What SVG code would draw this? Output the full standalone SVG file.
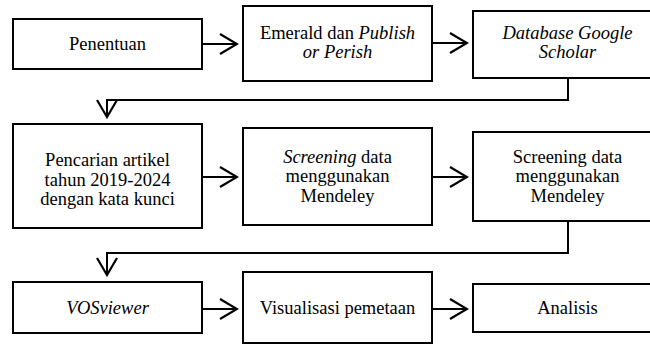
<svg xmlns="http://www.w3.org/2000/svg" width="650" height="344" viewBox="0 0 650 344">
<style>
rect.box{fill:#fff;stroke:#000;stroke-width:2}
text{font-family:'Liberation Serif','DejaVu Serif',serif;font-size:18.5px;fill:#000;text-anchor:middle}
.i{font-style:italic}
.conn{fill:none;stroke:#000;stroke-width:2}
</style>
<defs>
<marker id="ah" viewBox="0 0 20 22" refX="18" refY="11" markerWidth="20" markerHeight="22" markerUnits="userSpaceOnUse" orient="auto">
<path d="M1,1 L18,11 L1,21" fill="none" stroke="#000" stroke-width="2.2"/>
</marker>
</defs>
<rect width="650" height="344" fill="#fff"/>
<g id="connectors">
<path class="conn" d="M202,44 H237" marker-end="url(#ah)"/>
<path class="conn" d="M432,43 H467" marker-end="url(#ah)"/>
<path class="conn" d="M568,78 V100 H107 V117" marker-end="url(#ah)"/>
<path class="conn" d="M202,177 H237" marker-end="url(#ah)"/>
<path class="conn" d="M432,177 H467" marker-end="url(#ah)"/>
<path class="conn" d="M568,221 V253 H107 V275" marker-end="url(#ah)"/>
<path class="conn" d="M202,309 H237" marker-end="url(#ah)"/>
<path class="conn" d="M432,309 H467" marker-end="url(#ah)"/>
</g>
<g id="n1"><rect class="box" x="13" y="19" width="189" height="50"/><text x="107.5" y="50">Penentuan</text></g>
<g id="n2"><rect class="box" x="243" y="6" width="189" height="75"/><text x="337.5" y="39">Emerald dan <tspan class="i">Publish</tspan></text><text x="337.5" y="58" class="i">or Perish</text></g>
<g id="n3"><rect class="box" x="473" y="11" width="189" height="67"/><text x="567.5" y="39" class="i">Database Google</text><text x="567.5" y="58" class="i">Scholar</text></g>
<g id="n4"><rect class="box" x="13" y="124" width="189" height="104"/><text x="107.5" y="166">Pencarian artikel</text><text x="107.5" y="186">tahun 2019-2024</text><text x="107.5" y="205">dengan kata kunci</text></g>
<g id="n5"><rect class="box" x="243" y="128" width="189" height="97"/><text x="337.5" y="163"><tspan class="i">Screening</tspan> data</text><text x="337.5" y="182">menggunakan</text><text x="337.5" y="202">Mendeley</text></g>
<g id="n6"><rect class="box" x="473" y="132" width="189" height="89"/><text x="567.5" y="163">Screening data</text><text x="567.5" y="182">menggunakan</text><text x="567.5" y="202">Mendeley</text></g>
<g id="n7"><rect class="box" x="13" y="282" width="189" height="51"/><text x="107.5" y="314" class="i">VOSviewer</text></g>
<g id="n8"><rect class="box" x="243" y="272" width="189" height="71"/><text x="337.5" y="314">Visualisasi pemetaan</text></g>
<g id="n9"><rect class="box" x="473" y="284" width="189" height="48"/><text x="567.5" y="314">Analisis</text></g>
</svg>
